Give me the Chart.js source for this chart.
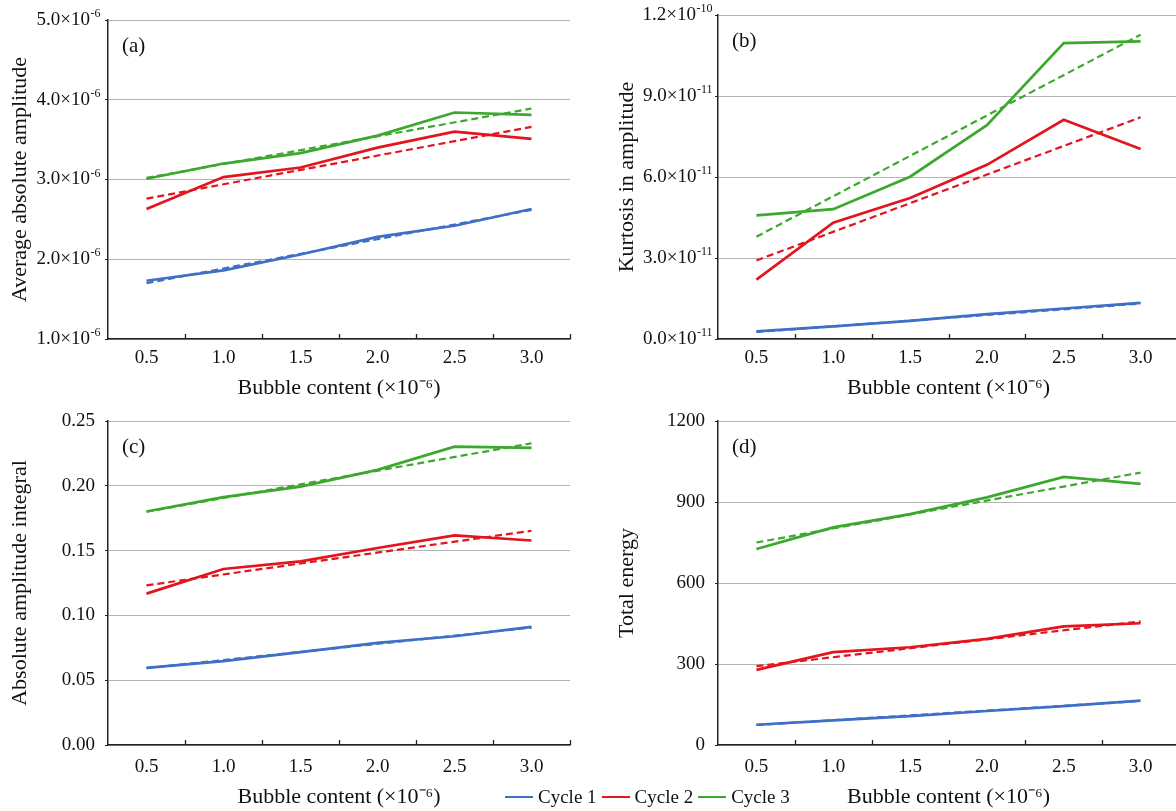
<!DOCTYPE html>
<html>
<head>
<meta charset="utf-8">
<script src="https://cdn.jsdelivr.net/npm/chart.js@4.4.1/dist/chart.umd.min.js"></script>
<style>
  html, body { margin:0; padding:0; background:#fff; width:1176px; height:811px; overflow:hidden; position:relative; }
  canvas { position:absolute; }
  #legend { position:absolute; left:505px; top:785px; height:24px; display:flex; align-items:center;
            font-family:"Liberation Serif","Times New Roman",serif; font-size:19px; color:#111; white-space:nowrap; }
  #legend .ln { display:inline-block; width:28px; height:2px; margin-right:5px; }
  #legend .tx { margin-right:5px; }
</style>
</head>
<body>
<canvas id="ca" width="590" height="405" style="left:0px;top:0px;"></canvas>
<canvas id="cb" width="600" height="405" style="left:590px;top:0px;"></canvas>
<canvas id="cc" width="590" height="406" style="left:0px;top:405px;"></canvas>
<canvas id="cd" width="600" height="406" style="left:590px;top:405px;"></canvas>
<div id="legend"></div>
<script>
// ---------- data ----------
const xLabels = ['0.5', '1.0', '1.5', '2.0', '2.5', '3.0'];
const seriesNames = ['Cycle 1', 'Cycle 2', 'Cycle 3'];
const seriesColors = ['#3F6FC6', '#E4141E', '#3DA82E'];

// (a) Average absolute amplitude
const aCycle1 = [1.73e-6, 1.86e-6, 2.06e-6, 2.28e-6, 2.42e-6, 2.63e-6];
const aCycle2 = [2.63e-6, 3.03e-6, 3.15e-6, 3.40e-6, 3.60e-6, 3.51e-6];
const aCycle3 = [3.01e-6, 3.20e-6, 3.33e-6, 3.55e-6, 3.84e-6, 3.81e-6];
const aTrend1 = [1.70e-6, null, null, null, null, 2.62e-6];
const aTrend2 = [2.76e-6, null, null, null, null, 3.66e-6];
const aTrend3 = [3.02e-6, null, null, null, null, 3.89e-6];
const aYValues = [1e-6, 2e-6, 3e-6, 4e-6, 5e-6];
const aYLabels = ['1.0×10^-6', '2.0×10^-6', '3.0×10^-6', '4.0×10^-6', '5.0×10^-6'];

// (b) Kurtosis in amplitude
const bCycle1 = [0.28e-11, 0.47e-11, 0.67e-11, 0.92e-11, 1.13e-11, 1.34e-11];
const bCycle2 = [2.20e-11, 4.31e-11, 5.22e-11, 6.45e-11, 8.12e-11, 7.04e-11];
const bCycle3 = [4.58e-11, 4.81e-11, 6.01e-11, 7.92e-11, 10.96e-11, 11.02e-11];
const bTrend1 = [0.26e-11, null, null, null, null, 1.31e-11];
const bTrend2 = [2.91e-11, null, null, null, null, 8.21e-11];
const bTrend3 = [3.79e-11, null, null, null, null, 11.27e-11];
const bYValues = [0, 3e-11, 6e-11, 9e-11, 1.2e-10];
const bYLabels = ['0.0×10^-11', '3.0×10^-11', '6.0×10^-11', '9.0×10^-11', '1.2×10^-10'];

// (c) Absolute amplitude integral
const cCycle1 = [0.0595, 0.0647, 0.0716, 0.0788, 0.0839, 0.0911];
const cCycle2 = [0.1168, 0.1358, 0.1417, 0.1520, 0.1617, 0.1578];
const cCycle3 = [0.1802, 0.1912, 0.1994, 0.2123, 0.2302, 0.2292];
const cTrend1 = [0.0593, null, null, null, null, 0.0906];
const cTrend2 = [0.1232, null, null, null, null, 0.1653];
const cTrend3 = [0.1800, null, null, null, null, 0.2328];
const cYValues = [0, 0.05, 0.10, 0.15, 0.20, 0.25];
const cYLabels = ['0.00', '0.05', '0.10', '0.15', '0.20', '0.25'];

// (d) Total energy
const dCycle1 = [75, 91, 107, 126, 144, 164];
const dCycle2 = [278, 344, 362, 393, 439, 451];
const dCycle3 = [726, 806, 855, 917, 993, 967];
const dTrend1 = [74, null, null, null, null, 163];
const dTrend2 = [292, null, null, null, null, 458];
const dTrend3 = [750, null, null, null, null, 1009];
const dYValues = [0, 300, 600, 900, 1200];
const dYLabels = ['0', '300', '600', '900', '1200'];

const xTitle = 'Bubble content (×10⁻⁶)';
// ---------- rendering ----------
const FONT = '"Liberation Serif", "Times New Roman", serif';

const panelPlugin = {
  id: 'panelDecor',
  afterDraw(chart) {
    const ctx = chart.ctx, ca = chart.chartArea, s = chart.scales.x, ys = chart.scales.y;
    const o = chart.options.plugins.panelDecor;
    ctx.save();
    // inner tick marks at category boundaries
    const p0 = s.getPixelForValue(0), p1 = s.getPixelForValue(1);
    const w = p1 - p0;
    ctx.strokeStyle = '#222'; ctx.lineWidth = 1.3;
    for (let i = 1; i <= xLabels.length; i++) {
      const x = Math.round(p0 - w / 2 + i * w) + 0.5;
      ctx.beginPath(); ctx.moveTo(x, ca.bottom); ctx.lineTo(x, ca.bottom - 5); ctx.stroke();
    }
    // y tick labels with superscript exponents
    ctx.fillStyle = '#111';
    ctx.textBaseline = 'middle'; ctx.textAlign = 'left';
    o.yValues.forEach((v, i) => {
      const y = ys.getPixelForValue(v);
      const parts = o.yLabels[i].split('^');
      ctx.font = '19px ' + FONT;
      const wb = ctx.measureText(parts[0]).width;
      let we = 0;
      if (parts[1]) { ctx.font = '12px ' + FONT; we = ctx.measureText(parts[1]).width; }
      const x0 = ca.left - o.yGap - wb - we;
      ctx.font = '19px ' + FONT;
      ctx.fillText(parts[0], x0, y);
      if (parts[1]) { ctx.font = '12px ' + FONT; ctx.fillText(parts[1], x0 + wb + 0.5, y - 6); }
    });
    // panel letter
    ctx.font = '21px ' + FONT;
    ctx.fillText(o.letter, ca.left + 14, ca.top + 26);
    ctx.restore();
  }
};

function trendDs(data, color) {
  return { data, borderColor: color, borderWidth: 2.2, borderDash: [7, 4], spanGaps: true,
           pointRadius: 0, fill: false, tension: 0 };
}
function lineDs(data, color, label) {
  return { label, data, borderColor: color, borderWidth: 2.7, pointRadius: 0, fill: false, tension: 0 };
}

function makeChart(id, p) {
  const ctx = document.getElementById(id);
  return new Chart(ctx, {
    type: 'line',
    data: {
      labels: xLabels,
      datasets: [
        trendDs(p.trends[0], seriesColors[0]),
        trendDs(p.trends[1], seriesColors[1]),
        trendDs(p.trends[2], seriesColors[2]),
        lineDs(p.series[0], seriesColors[0], seriesNames[0]),
        lineDs(p.series[1], seriesColors[1], seriesNames[1]),
        lineDs(p.series[2], seriesColors[2], seriesNames[2])
      ]
    },
    options: {
      responsive: false,
      animation: false,
      devicePixelRatio: 1,
      layout: { padding: { left: 0, right: p.padRight, top: p.padTop, bottom: 0 } },
      plugins: { legend: { display: false }, tooltip: { enabled: false },
                 panelDecor: { letter: p.letter, yValues: p.yValues, yLabels: p.yLabels, yGap: p.yGap } },
      scales: {
        x: {
          type: 'category',
          offset: true,
          grid: { display: false, drawTicks: false },
          border: { display: true, color: '#222', width: 1.5 },
          ticks: { color: '#111', font: { family: FONT, size: 19 }, padding: p.xTickPad, maxRotation: 0, autoSkip: false },
          title: { display: true, text: xTitle, color: '#111', font: { family: FONT, size: 22 },
                   padding: { top: 0, bottom: p.xTitlePad } },
          afterFit(scale) { scale.height = p.xAxisH; }
        },
        y: {
          min: p.yValues[0], max: p.yValues[p.yValues.length - 1],
          afterBuildTicks(scale) { scale.ticks = p.yValues.map(v => ({ value: v })); },
          grid: { color: '#B4B4B4', lineWidth: 1, drawTicks: true, tickLength: 3, tickColor: '#222' },
          border: { display: true, color: '#222', width: 1.5 },
          ticks: { display: false },
          title: { display: true, text: p.yTitle, color: '#111', font: { family: FONT, size: 22 },
                   padding: { top: p.yTitlePad, bottom: 0 } },
          afterFit(scale) { scale.width = p.yAxisW; }
        }
      }
    },
    plugins: [panelPlugin]
  });
}

makeChart('ca', { letter: '(a)', series: [aCycle1, aCycle2, aCycle3], trends: [aTrend1, aTrend2, aTrend3],
  yValues: aYValues, yLabels: aYLabels, yTitle: 'Average absolute amplitude',
  padTop: 20, padRight: 20, yAxisW: 108, xAxisH: 66, xTickPad: 8, xTitlePad: 4, yGap: 8, yTitlePad: 7 });
makeChart('cb', { letter: '(b)', series: [bCycle1, bCycle2, bCycle3], trends: [bTrend1, bTrend2, bTrend3],
  yValues: bYValues, yLabels: bYLabels, yTitle: 'Kurtosis in amplitude',
  padTop: 15, padRight: 11, yAxisW: 128, xAxisH: 66, xTickPad: 8, xTitlePad: 4, yGap: 6, yTitlePad: 24 });
makeChart('cc', { letter: '(c)', series: [cCycle1, cCycle2, cCycle3], trends: [cTrend1, cTrend2, cTrend3],
  yValues: cYValues, yLabels: cYLabels, yTitle: 'Absolute amplitude integral',
  padTop: 16, padRight: 20, yAxisW: 108, xAxisH: 66, xTickPad: 11, xTitlePad: 1, yGap: 13, yTitlePad: 7 });
makeChart('cd', { letter: '(d)', series: [dCycle1, dCycle2, dCycle3], trends: [dTrend1, dTrend2, dTrend3],
  yValues: dYValues, yLabels: dYLabels, yTitle: 'Total energy',
  padTop: 16, padRight: 11, yAxisW: 128, xAxisH: 66, xTickPad: 11, xTitlePad: 1, yGap: 13, yTitlePad: 24 });

// legend
const lg = document.getElementById('legend');
seriesNames.forEach((n, i) => {
  const l = document.createElement('span'); l.className = 'ln'; l.style.background = seriesColors[i];
  const t = document.createElement('span'); t.className = 'tx'; t.textContent = n;
  lg.appendChild(l); lg.appendChild(t);
});
</script>
</body>
</html>
